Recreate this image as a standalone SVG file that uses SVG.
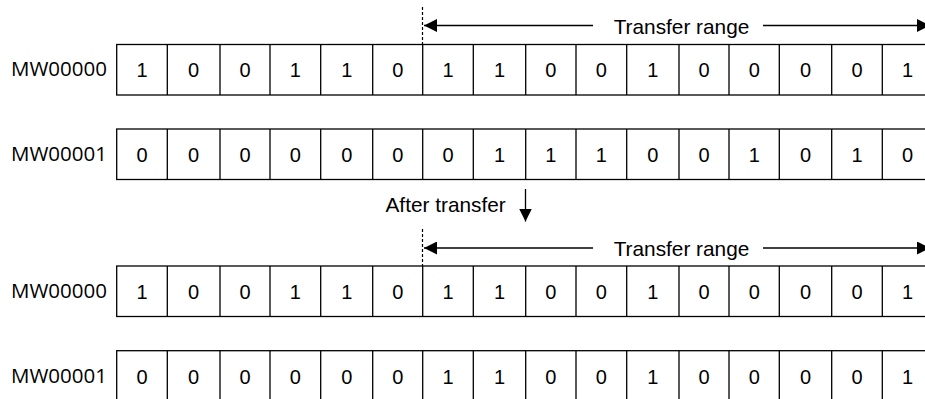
<svg xmlns="http://www.w3.org/2000/svg" width="925" height="399" viewBox="0 0 925 399">
<style>
.cell{fill:#fff;stroke:#000;stroke-width:1.3}
.d{font-family:"Liberation Sans",Arial,sans-serif;font-size:20px;fill:#000;text-anchor:middle}
.lbl{font-family:"Open Sans","Liberation Sans",sans-serif;font-size:20.5px;fill:#000}
.t{font-family:"Liberation Sans",Arial,sans-serif;font-size:20.8px;fill:#000}
.ln{stroke:#000;stroke-width:1.3;fill:none}
.dash{stroke:#000;stroke-width:1.2;stroke-dasharray:3,2;fill:none}
</style>
<defs>
<marker id="ahb" viewBox="0 0 12 12" refX="12" refY="6" markerWidth="13" markerHeight="13" markerUnits="userSpaceOnUse" orient="auto-start-reverse">
<path d="M0,0 L12,6 L0,12 z" fill="#000"/>
</marker>
</defs>

<g id="row-before-mw00000">
<text class="lbl" x="11" y="76">MW00000</text>
<rect class="cell" x="116.7" y="44.5" width="816" height="50.5"/>
<path class="ln" d="M167.3,44.5V95M220,44.5V95M270,44.5V95M320.7,44.5V95M372.7,44.5V95M422.7,44.5V95M473.3,44.5V95M525.7,44.5V95M576,44.5V95M626.7,44.5V95M679,44.5V95M729,44.5V95M779.3,44.5V95M831.7,44.5V95M882.3,44.5V95"/>
<g transform="translate(0,76.5)">
<text class="d" x="142" y="0">1</text><text class="d" x="193.6" y="0">0</text><text class="d" x="245" y="0">0</text><text class="d" x="295.3" y="0">1</text><text class="d" x="346.7" y="0">1</text><text class="d" x="397.7" y="0">0</text><text class="d" x="448" y="0">1</text><text class="d" x="499.5" y="0">1</text><text class="d" x="550.8" y="0">0</text><text class="d" x="601.3" y="0">0</text><text class="d" x="652.8" y="0">1</text><text class="d" x="704" y="0">0</text><text class="d" x="754.2" y="0">0</text><text class="d" x="805.5" y="0">0</text><text class="d" x="857" y="0">0</text><text class="d" x="907.6" y="0">1</text>
</g>
</g>

<g id="row-before-mw00001">
<text class="lbl" x="11" y="161">MW00001</text>
<rect class="cell" x="116.7" y="129" width="816" height="50.5"/>
<path class="ln" d="M167.3,129V179.5M220,129V179.5M270,129V179.5M320.7,129V179.5M372.7,129V179.5M422.7,129V179.5M473.3,129V179.5M525.7,129V179.5M576,129V179.5M626.7,129V179.5M679,129V179.5M729,129V179.5M779.3,129V179.5M831.7,129V179.5M882.3,129V179.5"/>
<g transform="translate(0,161.5)">
<text class="d" x="142" y="0">0</text><text class="d" x="193.6" y="0">0</text><text class="d" x="245" y="0">0</text><text class="d" x="295.3" y="0">0</text><text class="d" x="346.7" y="0">0</text><text class="d" x="397.7" y="0">0</text><text class="d" x="448" y="0">0</text><text class="d" x="499.5" y="0">1</text><text class="d" x="550.8" y="0">1</text><text class="d" x="601.3" y="0">1</text><text class="d" x="652.8" y="0">0</text><text class="d" x="704" y="0">0</text><text class="d" x="754.2" y="0">1</text><text class="d" x="805.5" y="0">0</text><text class="d" x="857" y="0">1</text><text class="d" x="907.6" y="0">0</text>
</g>
</g>

<g id="row-after-mw00000">
<text class="lbl" x="11" y="298">MW00000</text>
<rect class="cell" x="116.7" y="266" width="816" height="50.5"/>
<path class="ln" d="M167.3,266V316.5M220,266V316.5M270,266V316.5M320.7,266V316.5M372.7,266V316.5M422.7,266V316.5M473.3,266V316.5M525.7,266V316.5M576,266V316.5M626.7,266V316.5M679,266V316.5M729,266V316.5M779.3,266V316.5M831.7,266V316.5M882.3,266V316.5"/>
<g transform="translate(0,298.5)">
<text class="d" x="142" y="0">1</text><text class="d" x="193.6" y="0">0</text><text class="d" x="245" y="0">0</text><text class="d" x="295.3" y="0">1</text><text class="d" x="346.7" y="0">1</text><text class="d" x="397.7" y="0">0</text><text class="d" x="448" y="0">1</text><text class="d" x="499.5" y="0">1</text><text class="d" x="550.8" y="0">0</text><text class="d" x="601.3" y="0">0</text><text class="d" x="652.8" y="0">1</text><text class="d" x="704" y="0">0</text><text class="d" x="754.2" y="0">0</text><text class="d" x="805.5" y="0">0</text><text class="d" x="857" y="0">0</text><text class="d" x="907.6" y="0">1</text>
</g>
</g>

<g id="row-after-mw00001">
<text class="lbl" x="11" y="383">MW00001</text>
<rect class="cell" x="116.7" y="350.7" width="816" height="50.5"/>
<path class="ln" d="M167.3,350.7V401M220,350.7V401M270,350.7V401M320.7,350.7V401M372.7,350.7V401M422.7,350.7V401M473.3,350.7V401M525.7,350.7V401M576,350.7V401M626.7,350.7V401M679,350.7V401M729,350.7V401M779.3,350.7V401M831.7,350.7V401M882.3,350.7V401"/>
<g transform="translate(0,383.5)">
<text class="d" x="142" y="0">0</text><text class="d" x="193.6" y="0">0</text><text class="d" x="245" y="0">0</text><text class="d" x="295.3" y="0">0</text><text class="d" x="346.7" y="0">0</text><text class="d" x="397.7" y="0">0</text><text class="d" x="448" y="0">1</text><text class="d" x="499.5" y="0">1</text><text class="d" x="550.8" y="0">0</text><text class="d" x="601.3" y="0">0</text><text class="d" x="652.8" y="0">1</text><text class="d" x="704" y="0">0</text><text class="d" x="754.2" y="0">0</text><text class="d" x="805.5" y="0">0</text><text class="d" x="857" y="0">0</text><text class="d" x="907.6" y="0">1</text>
</g>
</g>

<g id="connectors">
<path class="dash" d="M422.5,7V44.5"/>
<path class="ln" d="M593,25.5H424" marker-end="url(#ahb)"/>
<path class="ln" d="M763,25.5H930" marker-end="url(#ahb)"/>
<text class="t" x="681.5" y="34" text-anchor="middle">Transfer range</text>

<path class="dash" d="M422.5,229V266"/>
<path class="ln" d="M593,248H424" marker-end="url(#ahb)"/>
<path class="ln" d="M763,248H930" marker-end="url(#ahb)"/>
<text class="t" x="681.5" y="256" text-anchor="middle">Transfer range</text>

<text class="t" x="385.5" y="212">After transfer</text>
<path class="ln" d="M525.5,189V221.5" marker-end="url(#ahb)"/>
</g>
</svg>
